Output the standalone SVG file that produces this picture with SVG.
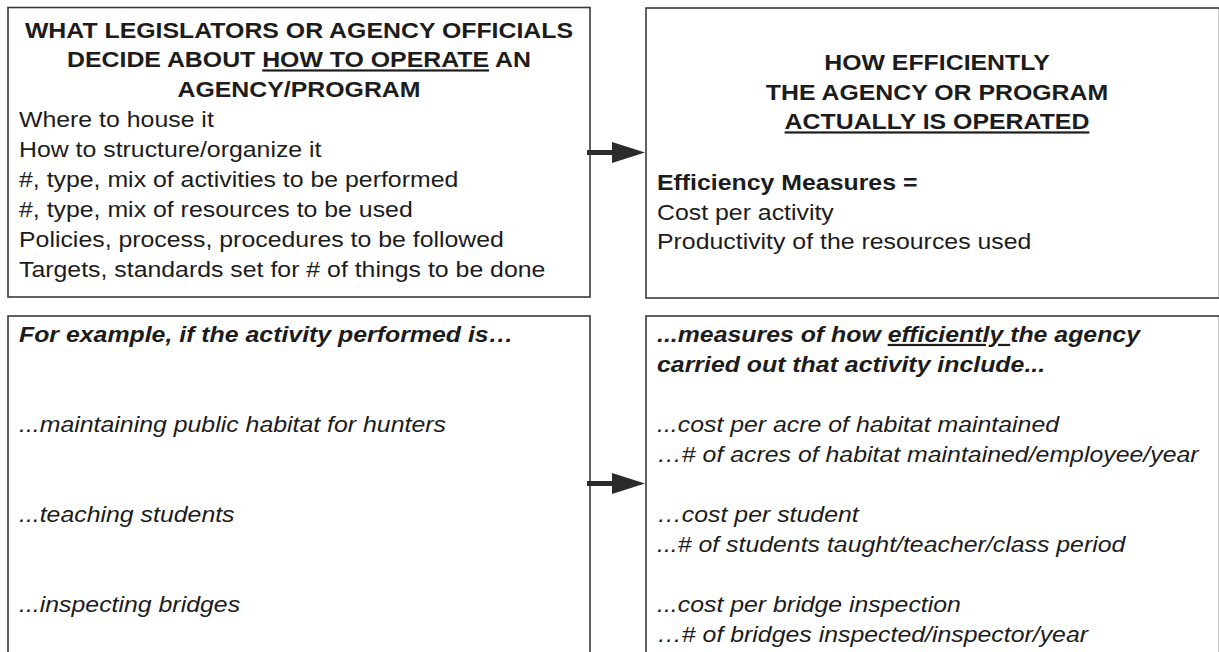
<svg xmlns="http://www.w3.org/2000/svg" width="1219" height="652" viewBox="0 0 1219 652">
  <style>
    .box { fill: #ffffff; stroke: #3a3a3a; stroke-width: 1.6; }
    .t { font-family: "Liberation Sans", Arial, Helvetica, sans-serif; font-size: 22px; fill: #1c1c1c;
         transform-box: fill-box; transform-origin: 0% 50%; transform: scaleX(1.13); }
    .c { text-anchor: middle; transform-origin: 50% 50%; }
    .b { font-weight: bold; }
    .i { font-style: italic; }
    .u { text-decoration: underline; }
    .shaft { stroke: #2b2b2b; stroke-width: 5; fill: none; }
  </style>
  <defs>
    <marker id="head" markerUnits="userSpaceOnUse" markerWidth="34" markerHeight="22" refX="2" refY="10.5" orient="auto">
      <path d="M0,0 L33,10.5 L0,21 Z" fill="#2b2b2b"/>
    </marker>
  </defs>
  <rect width="1219" height="652" fill="#ffffff"/>

  <!-- decisions about how to operate -->
  <g id="decide">
    <rect class="box" x="8" y="7.5" width="582" height="289.5"/>
    <text class="t c b" x="299" y="38">WHAT LEGISLATORS OR AGENCY OFFICIALS</text>
    <text class="t c b" x="299" y="67.5">DECIDE ABOUT <tspan class="u">HOW TO OPERATE</tspan> AN</text>
    <text class="t c b" x="299" y="97">AGENCY/PROGRAM</text>
    <text class="t" x="19" y="127">Where to house it</text>
    <text class="t" x="19" y="157">How to structure/organize it</text>
    <text class="t" x="19" y="187">#, type, mix of activities to be performed</text>
    <text class="t" x="19" y="217">#, type, mix of resources to be used</text>
    <text class="t" x="19" y="247">Policies, process, procedures to be followed</text>
    <text class="t" x="19" y="277">Targets, standards set for # of things to be done</text>
  </g>

  <!-- how efficiently it is operated -->
  <g id="efficiency">
    <rect class="box" x="646" y="8" width="573.5" height="290"/>
    <text class="t c b" x="937" y="70.5">HOW EFFICIENTLY</text>
    <text class="t c b" x="937" y="100">THE AGENCY OR PROGRAM</text>
    <text class="t c b u" x="937" y="129.5">ACTUALLY IS OPERATED</text>
    <text class="t b" x="657" y="190">Efficiency Measures =</text>
    <text class="t" x="657" y="220">Cost per activity</text>
    <text class="t" x="657" y="249.5">Productivity of the resources used</text>
  </g>

  <!-- example activities -->
  <g id="activities">
    <rect class="box" x="8" y="316" width="582" height="350"/>
    <text class="t b i" x="19" y="342">For example, if the activity performed is…</text>
    <text class="t i" x="19" y="432">...maintaining public habitat for hunters</text>
    <text class="t i" x="19" y="522">...teaching students</text>
    <text class="t i" x="19" y="612">...inspecting bridges</text>
  </g>

  <!-- example efficiency measures -->
  <g id="measures">
    <rect class="box" x="646" y="316" width="573.5" height="350"/>
    <text class="t b i" x="657" y="342">...measures of how <tspan class="u">efficiently </tspan>the agency</text>
    <text class="t b i" x="657" y="372">carried out that activity include...</text>
    <text class="t i" x="657" y="432">...cost per acre of habitat maintained</text>
    <text class="t i" x="657" y="462">…# of acres of habitat maintained/employee/year</text>
    <text class="t i" x="657" y="522">…cost per student</text>
    <text class="t i" x="657" y="552">...# of students taught/teacher/class period</text>
    <text class="t i" x="657" y="612">...cost per bridge inspection</text>
    <text class="t i" x="657" y="642">…# of bridges inspected/inspector/year</text>
  </g>

  <!-- connectors -->
  <g id="connectors">
    <line class="shaft" x1="587" y1="152.5" x2="614" y2="152.5" marker-end="url(#head)"/>
    <line class="shaft" x1="587" y1="483.5" x2="614" y2="483.5" marker-end="url(#head)"/>
  </g>
</svg>
